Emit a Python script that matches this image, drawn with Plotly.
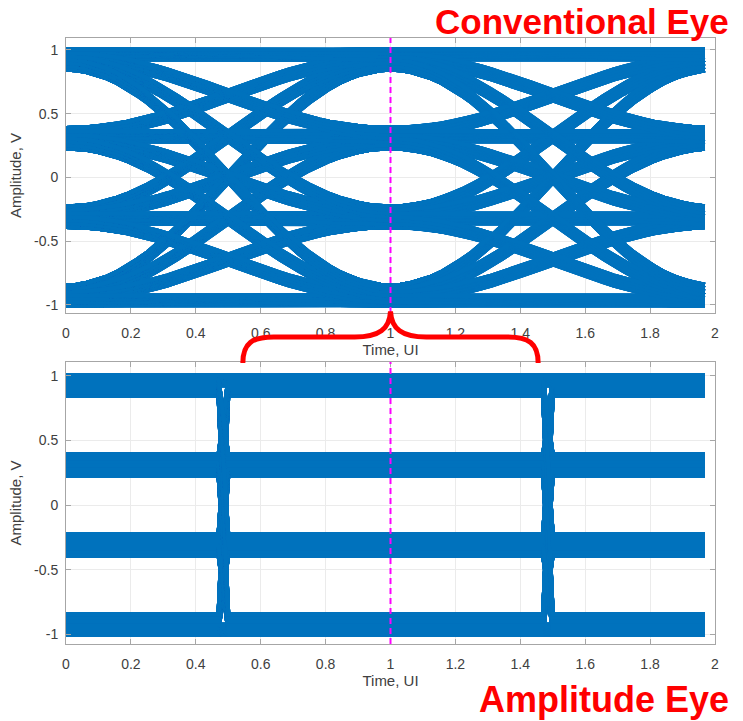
import itertools
import numpy as np
import plotly.graph_objects as go

# ---------------- data ----------------
# PAM4 symbol levels (normalised)
LEVELS = [-1.0, -1/3, 1/3, 1.0]
# sampled value = POST*previous + MAIN*current + PRE*next   (bands ~ +/-0.925 V, +/-0.31 V, spread +/-0.08 V)
MAIN_GAIN = 0.925
ISI_PRE = 0.04
ISI_POST = 0.04

# conventional eye: transition shape across one UI, one value every 1/32 UI
TRANSITION_SHAPE = [0.000, 0.002, 0.010, 0.022, 0.038, 0.059, 0.084, 0.114, 0.146,
                    0.183, 0.222, 0.264, 0.309, 0.355, 0.402, 0.451, 0.500, 0.549,
                    0.598, 0.645, 0.691, 0.736, 0.778, 0.817, 0.854, 0.886, 0.916,
                    0.941, 0.962, 0.978, 0.990, 0.998, 1.000]
SAMPLES_PER_UI = 32
LAST_SAMPLE = 63          # last drawn sample index -> 63/32 UI

# amplitude eye: level is held, then switches between these UI fractions
EDGE_START = 0.47
EDGE_END = 0.50

X_TICKS = [0, 0.2, 0.4, 0.6, 0.8, 1, 1.2, 1.4, 1.6, 1.8, 2]
X_TICK_TEXT = ["0", "0.2", "0.4", "0.6", "0.8", "1", "1.2", "1.4", "1.6", "1.8", "2"]
Y_TICKS = [-1, -0.5, 0, 0.5, 1]
Y_TICK_TEXT = ["-1", "-0.5", "0", "0.5", "1"]

MARKER_X = 1.0            # dashed sampling instant

# ---------------- build traces ----------------
shape = np.array(TRANSITION_SHAPE)
xs_top, ys_top, xs_bot, ys_bot = [], [], [], []
t_top = np.arange(LAST_SAMPLE + 1) / SAMPLES_PER_UI
x_end = LAST_SAMPLE / SAMPLES_PER_UI
for combo in itertools.product(range(len(LEVELS)), repeat=5):
    L = [LEVELS[i] for i in combo]
    v = [ISI_POST * L[k] + MAIN_GAIN * L[k + 1] + ISI_PRE * L[k + 2] for k in range(3)]
    seg0 = v[0] + (v[1] - v[0]) * shape
    seg1 = v[1] + (v[2] - v[1]) * shape[1:LAST_SAMPLE - SAMPLES_PER_UI + 1]
    xs_top.extend(t_top.tolist()); xs_top.append(None)
    ys_top.extend(seg0.tolist() + seg1.tolist()); ys_top.append(None)
    xs_bot.extend([0, EDGE_START, EDGE_END, 1 + EDGE_START, 1 + EDGE_END, x_end, None])
    ys_bot.extend([v[0], v[0], v[1], v[1], v[2], v[2], None])

BLUE = "#0072BD"
FONT = "Liberation Sans, Arial, sans-serif"

fig = go.Figure()
fig.add_trace(go.Scatter(x=xs_top, y=ys_top, mode="lines", xaxis="x", yaxis="y",
                         line=dict(color=BLUE, width=4), hoverinfo="skip", showlegend=False))
fig.add_trace(go.Scatter(x=xs_bot, y=ys_bot, mode="lines", xaxis="x2", yaxis="y2",
                         line=dict(color=BLUE, width=4), hoverinfo="skip", showlegend=False))

axis_common = dict(showline=True, linecolor="#A6A6A6", linewidth=1, mirror="ticks",
                   ticks="inside", ticklen=5, tickcolor="#A6A6A6", automargin=False,
                   showgrid=True, gridcolor="#EBEBEB", gridwidth=1, zeroline=False,
                   tickfont=dict(family=FONT, size=14, color="#404040"))
xax = dict(axis_common, range=[0, 2], tickvals=X_TICKS, ticktext=X_TICK_TEXT,
           title=dict(text="Time, UI", font=dict(family=FONT, size=15, color="#404040"), standoff=4),
           ticklabelstandoff=7)
yax = dict(axis_common, tickvals=Y_TICKS, ticktext=Y_TICK_TEXT,
           title=dict(text="Amplitude, V", font=dict(family=FONT, size=15, color="#404040"), standoff=8),
           ticklabelstandoff=4)

fig.update_layout(
    width=743, height=721,
    margin=dict(l=66, r=28, t=38, b=77, autoexpand=False),
    paper_bgcolor="white", plot_bgcolor="white",
    xaxis=dict(xax, domain=[0, 1], anchor="y"),
    yaxis=dict(yax, domain=[0.5462, 1], range=[-1.063, 1.094], anchor="x"),
    xaxis2=dict(xax, domain=[0, 1], anchor="y2"),
    yaxis2=dict(yax, domain=[0, 0.4653], range=[-1.075, 1.106], anchor="x2"),
    showlegend=False,
)

# dashed sampling-instant markers
for xr, yr in (("x", "y domain"), ("x2", "y2 domain")):
    fig.add_shape(type="line", xref=xr, yref=yr, x0=MARKER_X, x1=MARKER_X, y0=0, y1=1,
                  line=dict(color="#FF00FF", width=2, dash="6px,4px"), layer="above")

# red brace
brace = ("M 0.545,0.4637 C 0.545,0.497 0.575,0.5066 0.64,0.5066 L 0.89,0.5066 "
         "C 0.965,0.5066 0.997,0.52 1.0,0.549 C 1.003,0.52 1.035,0.5066 1.11,0.5066 "
         "L 1.36,0.5066 C 1.425,0.5066 1.455,0.497 1.455,0.4637")
fig.add_shape(type="path", xref="x", yref="paper", path=brace,
              line=dict(color="#FF0000", width=5), layer="above")

fig.add_annotation(text="<b>Conventional Eye</b>", xref="paper", yref="paper",
                   x=1.024, y=1.0265, xanchor="right", yanchor="middle", showarrow=False,
                   font=dict(family=FONT, size=35, color="#FF0000"))
fig.add_annotation(text="<b>Amplitude Eye</b>", xref="paper", yref="paper",
                   x=1.024, y=-0.0924, xanchor="right", yanchor="middle", showarrow=False,
                   font=dict(family=FONT, size=36, color="#FF0000"))

# remove the default 8 px page margin so the figure fills the window exactly
fig.write_html("out.html", config={"displayModeBar": False},
               post_script="document.body.style.margin='0px';")
